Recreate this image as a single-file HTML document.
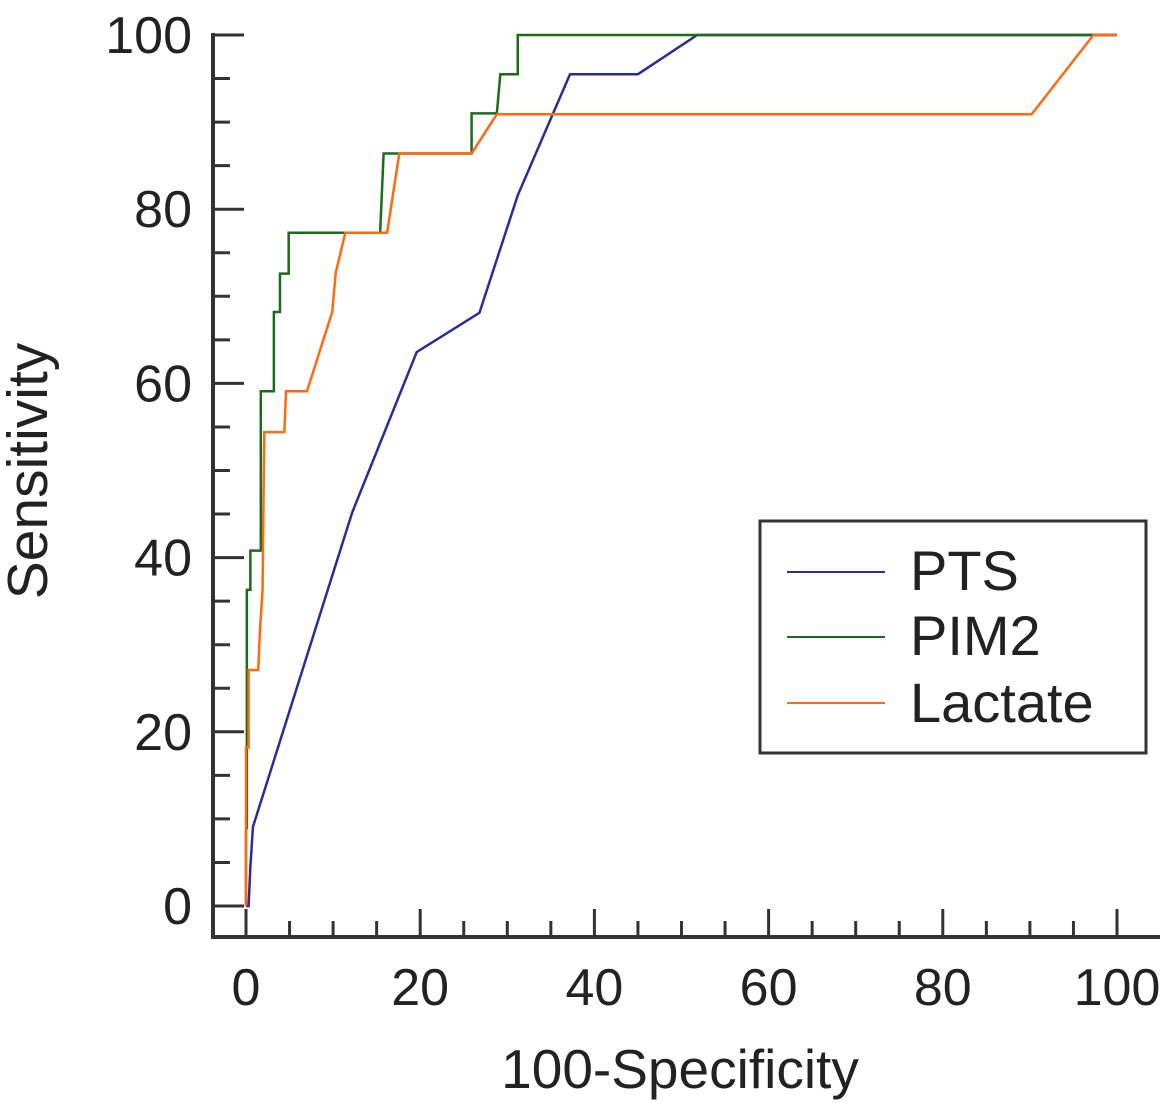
<!DOCTYPE html>
<html><head><meta charset="utf-8"><style>
body{margin:0;background:#fff}
svg{display:block;font-family:"Liberation Sans",Arial,sans-serif}
</style></head><body>
<svg id="chart" width="1167" height="1103" viewBox="0 0 1167 1103">
<g id="axes"></g><g id="series"></g>
<g>
<rect x="760" y="521" width="386" height="232" fill="#fff" stroke="#333" stroke-width="3"/>
<line x1="787" y1="572" x2="885" y2="572" stroke="#2b2b9b" stroke-width="2"/>
<text x="910" y="590" font-size="56" fill="#222">PTS</text>
<line x1="787" y1="637" x2="885" y2="637" stroke="#1a6b1a" stroke-width="2"/>
<text x="910" y="655" font-size="56" fill="#222">PIM2</text>
<line x1="787" y1="703" x2="885" y2="703" stroke="#ff6a10" stroke-width="2"/>
<text x="910" y="722" font-size="56" fill="#222">Lactate</text>
</g>
<text x="680" y="1088" font-size="55" text-anchor="middle" fill="#222">100-Specificity</text>
<text transform="translate(47,471) rotate(-90)" font-size="57" text-anchor="middle" fill="#222">Sensitivity</text>
</svg>
<script>
const xTicks=[0,20,40,60,80,100];
const yTicks=[0,20,40,60,80,100];
const ptsX=[0,0.3,0.5,0.8,12.2,19.6,26.8,31.2,37.2,45,51.8,100];
const ptsY=[0,0,4.5,9.1,45.2,63.6,68.1,81.6,95.5,95.5,100,100];
const pimX=[0,0,0.1,0.1,0.5,0.5,1.7,1.7,3.2,3.2,3.9,3.9,4.9,4.9,15.4,15.8,25.9,25.9,28.8,29.2,31.2,31.2,100];
const pimY=[0,8.7,9,36.3,36.3,40.8,40.8,59.1,59.1,68.2,68.2,72.6,72.6,77.3,77.3,86.4,86.4,91,91,95.5,95.5,100,100];
const lacX=[0,0,0.3,0.3,1.4,1.6,1.9,2.1,4.4,4.6,7,9.9,10.3,11.4,16.2,17.6,25.9,28.8,90.2,97.3,100];
const lacY=[0,18.2,18.2,27.1,27.1,31.6,36.3,54.4,54.4,59.1,59.1,68.2,72.7,77.3,77.3,86.4,86.4,90.9,90.9,100,100];
const NS='http://www.w3.org/2000/svg';
const sx=v=>246+8.71*v, sy=v=>906-8.71*v;
const ax=document.getElementById('axes'), se=document.getElementById('series');
function mk(tag,attrs,parent){const e=document.createElementNS(NS,tag);for(const k in attrs)e.setAttribute(k,attrs[k]);parent.appendChild(e);return e;}
let l=mk('line',{x1:213,y1:33,x2:213,y2:939,stroke:'#333','stroke-width':4},ax);


l=mk('line',{x1:211,y1:937,x2:1160,y2:937,stroke:'#333','stroke-width':4},ax);


for(let v=0;v<=100;v+=5){const maj=v%20===0;
 let t=mk('line',{x1:213,y1:sy(v),x2:maj?244:230,y2:sy(v),stroke:'#333','stroke-width':3},ax);
 
 
 t=mk('line',{x1:sx(v),y1:937,x2:sx(v),y2:maj?909:921,stroke:'#333','stroke-width':3},ax);
 
 }
yTicks.forEach(v=>{const t=mk('text',{x:192,y:sy(v)+18,'font-size':52,'text-anchor':'end',fill:'#222'},ax);t.textContent=v;
 
 });
xTicks.forEach(v=>{const t=mk('text',{x:sx(v),y:1005,'font-size':52,'text-anchor':'middle',fill:'#222'},ax);t.textContent=v;
 
 });
function line(xs,ys,col,name){const p=mk('polyline',{points:xs.map((x,i)=>sx(x)+','+sy(ys[i])).join(' '),fill:'none',stroke:col,'stroke-width':2.5},se);
 
 }
line(ptsX,ptsY,'#2b2b9b','pts-line');
line(pimX,pimY,'#1a6b1a','pim2-line');
line(lacX,lacY,'#ff6a10','lactate-line');
</script>
</body></html>
